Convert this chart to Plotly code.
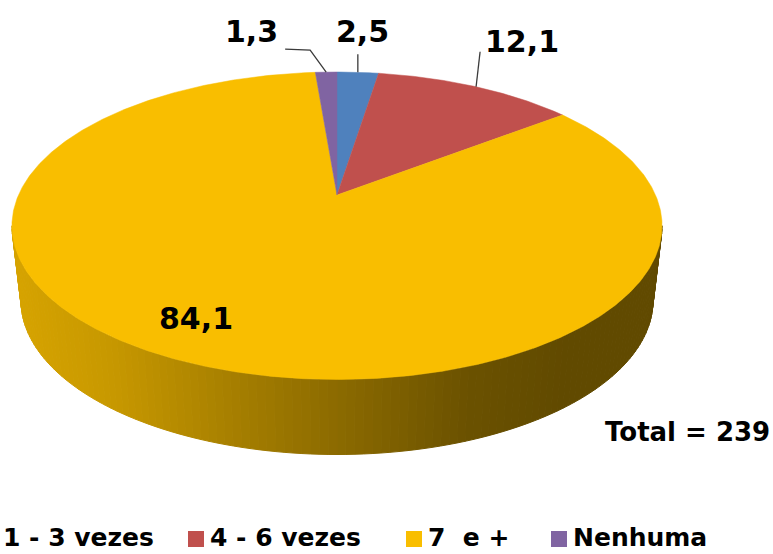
import numpy as np
import plotly.graph_objects as go

# ---------------- data ----------------
categories = ["1 - 3 vezes", "4 - 6 vezes", "7  e +", "Nenhuma"]
values = [2.5, 12.1, 84.1, 1.3]
slice_colors = ["#4F81BD", "#C0504D", "#F9BE00", "#8064A2"]
total_n = 239

# ---------------- geometry (pixel space) ----------------
W, H = 773, 554
CX, CY = 337, 195          # pie apex
A, B, K = 318.5, 147.6, 0.2  # ellipse radii and perspective factor
DEPTH, SHRINK = 75, 0.972


def top(th_deg, r=1.0):
    th = np.radians(th_deg)
    d = 1 + K * r * np.cos(th)
    return CX + A * r * np.sin(th) / d, CY - B * r * np.cos(th) / d


def bottom(th_deg):
    x, y = top(th_deg)
    return CX + SHRINK * (x - CX), y + DEPTH


def hex2rgb(h):
    h = h.lstrip("#")
    return tuple(int(h[i:i + 2], 16) for i in (0, 2, 4))


fracs = np.array(values) / sum(values)
ends = np.cumsum(fracs) * 360
starts = np.concatenate([[0], ends[:-1]])

fig = go.Figure()

# ---------------- side wall (front) ----------------
th_r = np.degrees(np.arccos(-K))
th_l = 360 - th_r
N = 120
edges = np.linspace(th_r, th_l, N + 1)
stops_f = [0.0, 0.15, 0.35, 0.5, 0.7, 0.85, 1.0]
stops_v = [0.86, 0.80, 0.66, 0.56, 0.43, 0.39, 0.39]
for i in range(N):
    a0, a1 = edges[i], edges[i + 1]
    mid = (a0 + a1) / 2
    idx = int(np.searchsorted(ends, mid))
    idx = min(idx, len(values) - 1)
    base = hex2rgb(slice_colors[idx])
    mx, _ = top(mid)
    f = (mx - (CX - A / np.sqrt(1 - K * K))) / (2 * A / np.sqrt(1 - K * K))
    fac = np.interp(f, stops_f, stops_v)
    col = "rgb(%d,%d,%d)" % tuple(int(round(c * fac)) for c in base)
    t0, t1 = top(a0), top(a1)
    b0, b1 = bottom(a0), bottom(a1)
    fig.add_trace(go.Scatter(
        x=[t0[0], t1[0], b1[0], b0[0], t0[0]],
        y=[t0[1], t1[1], b1[1], b0[1], t0[1]],
        mode="lines", fill="toself", fillcolor=col,
        line=dict(color=col, width=1), hoverinfo="skip", showlegend=False))

# ---------------- top face slices ----------------
for s, e, c in zip(starts, ends, slice_colors):
    th = np.linspace(s, e, max(3, int((e - s) * 2) + 2))
    px, py = top(th)
    fig.add_trace(go.Scatter(
        x=np.concatenate([[CX], px, [CX]]),
        y=np.concatenate([[CY], py, [CY]]),
        mode="lines", fill="toself", fillcolor=c,
        line=dict(color=c, width=0.5), hoverinfo="skip", showlegend=False))

# ---------------- data labels with leader lines ----------------
def fmt(v):
    return ("%.1f" % v).replace(".", ",")

mids = (starts + ends) / 2
label_font = dict(family="DejaVu Sans", size=30, color="black")
# (leader path offsets from edge point, label centre offset)
leader_cfg = {
    0: ([(0, 0), (0, -18)], (5, -41)),
    1: ([(0, 0), (4, -35)], (46, -45)),
    3: ([(0, 0), (-16, -22), (-41, -23)], (-75, -41)),
}
for i, v in enumerate(values):
    if i in leader_cfg:
        ex, ey = top(mids[i])
        path, (lx, ly) = leader_cfg[i]
        fig.add_trace(go.Scatter(
            x=[ex + p[0] for p in path], y=[ey + p[1] for p in path],
            mode="lines", line=dict(color="#3a3a3a", width=1.3),
            hoverinfo="skip", showlegend=False))
        fig.add_annotation(x=ex + lx, y=ey + ly, text="<b>%s</b>" % fmt(v),
                           showarrow=False, font=label_font,
                           xanchor="center", yanchor="middle")
    else:
        lx, ly = top(mids[i], 0.8)
        fig.add_annotation(x=lx - 20, y=ly - 3, text="<b>%s</b>" % fmt(v),
                           showarrow=False, font=label_font,
                           xanchor="center", yanchor="middle")

fig.add_annotation(x=772, y=432, text="<b>Total = %d</b>" % total_n,
                   showarrow=False, xanchor="right", yanchor="middle",
                   font=dict(family="DejaVu Sans", size=26, color="black"))

# ---------------- legend (manual, horizontal) ----------------
leg_sq_x = [-22, 196, 414, 559]
leg_y = 537
leg_font = dict(family="DejaVu Sans", size=25, color="black")
fig.add_trace(go.Scatter(
    x=leg_sq_x, y=[leg_y + 2] * 4, mode="markers",
    marker=dict(symbol="square", size=16, color=slice_colors),
    hoverinfo="skip", showlegend=False, cliponaxis=True))
for i, (sx, cat) in enumerate(zip(leg_sq_x, categories)):
    if sx < 0:
        fig.add_annotation(x=156, y=leg_y, text="<b>%s</b>" % cat,
                           showarrow=False, xanchor="right", yanchor="middle",
                           font=leg_font)
    else:
        fig.add_annotation(x=sx + 12, y=leg_y, text="<b>%s</b>" % cat,
                           showarrow=False, xanchor="left", yanchor="middle",
                           font=leg_font)

fig.update_layout(
    width=W, height=H, margin=dict(l=0, r=0, t=0, b=0),
    paper_bgcolor="white", plot_bgcolor="white",
    xaxis=dict(range=[0, W], visible=False, fixedrange=True),
    yaxis=dict(range=[H, 0], visible=False, fixedrange=True),
    showlegend=False)

fig.write_html("out.html", config={"displayModeBar": False},
               post_script="document.body.style.margin='0px';document.body.style.overflow='hidden';")
